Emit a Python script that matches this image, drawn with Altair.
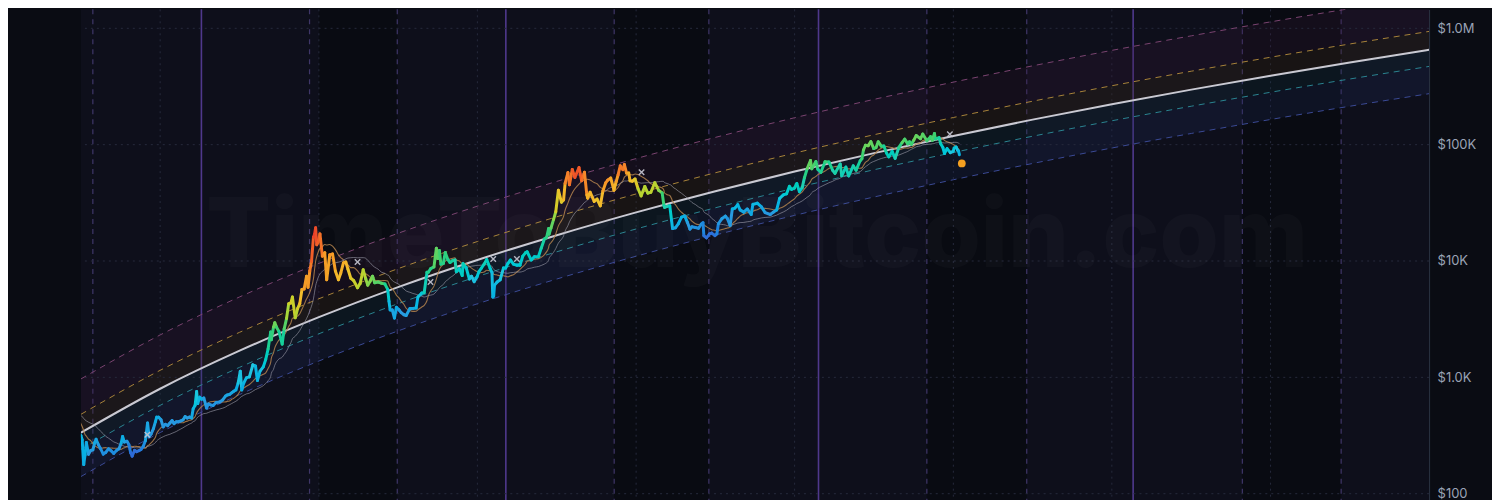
import altair as alt
import pandas as pd

# ---------------- data ----------------
YEARS = [f"{y}-01-01" for y in range(2015, 2033)]
CENTER = [334, 798, 1694, 3289, 5970, 10210, 16670, 26180, 39810, 58750,
          84530, 118850, 164060, 222840, 297170, 391740, 509330, 653130]
BAND_MULT = {"pink": 2.9, "orange": 1.44, "teal": 0.72, "blue": 0.42}

GRID_X = ["2016-01-01", "2018-01-01", "2020-01-01", "2022-01-01", "2024-01-01",
          "2026-01-01", "2028-01-01", "2030-01-01"]
GRID_Y = [100, 1000, 10000, 100000, 1000000]
HALVINGS = ["2016-07-09", "2020-05-11", "2024-04-20", "2028-04-08"]
CYCLE_LINES = ["2015-02-25", "2017-11-19", "2018-12-28", "2021-09-22", "2022-12-02",
               "2025-09-01", "2026-12-05", "2029-08-24", "2030-11-22"]
DARK_START = ["2018-01-01", "2021-09-22", "2025-09-01", "2029-08-24"]
DARK_END = ["2018-12-28", "2022-12-02", "2026-12-05", "2030-11-22"]

MARK_DATES = ["2015-11-03", "2018-06-28", "2019-05-30", "2020-03-14", "2020-07-01",
              "2022-01-26", "2025-12-16"]
MARK_PRICES = [321, 9800, 6600, 10400, 10400, 58000, 123000]
NOW_DATE = ["2026-02-09"]
NOW_PRICE = [69000]

P2014 = [("2014-06-01", 630, .5), ("2014-06-15", 590, .5), ("2014-07-01", 640, .5),
         ("2014-07-15", 620, .5), ("2014-08-01", 590, .45), ("2014-08-15", 500, .4),
         ("2014-09-01", 480, .4), ("2014-09-15", 470, .4), ("2014-10-01", 380, .35),
         ("2014-10-15", 390, .35), ("2014-11-01", 330, .35), ("2014-11-15", 400, .35),
         ("2014-12-01", 380, .35), ("2014-12-15", 350, .35)]
P2015 = [("2015-01-01", 315, .38), ("2015-01-07", 290, .36), ("2015-01-14", 178, .34),
         ("2015-01-20", 215, .34), ("2015-01-26", 275, .36), ("2015-02-05", 218, .3),
         ("2015-02-15", 235, .3), ("2015-02-25", 238, .3), ("2015-03-05", 272, .32),
         ("2015-03-12", 294, .34), ("2015-03-22", 265, .3), ("2015-04-01", 245, .28),
         ("2015-04-14", 219, .25), ("2015-04-25", 226, .25), ("2015-05-08", 243, .28),
         ("2015-05-20", 234, .26), ("2015-06-01", 222, .24), ("2015-06-15", 236, .26),
         ("2015-06-25", 243, .28), ("2015-07-05", 270, .32), ("2015-07-12", 310, .36),
         ("2015-07-20", 278, .32), ("2015-08-01", 282, .3), ("2015-08-10", 265, .25),
         ("2015-08-18", 225, .15), ("2015-08-25", 210, .12), ("2015-09-05", 236, .15),
         ("2015-09-15", 230, .14), ("2015-09-25", 234, .15), ("2015-10-05", 240, .18),
         ("2015-10-15", 255, .22), ("2015-10-25", 285, .28), ("2015-11-04", 405, .36),
         ("2015-11-11", 310, .28), ("2015-11-20", 325, .28), ("2015-12-01", 362, .3),
         ("2015-12-10", 415, .33), ("2015-12-16", 455, .35), ("2015-12-25", 455, .34)]
P2016 = [("2016-01-05", 432, .32), ("2016-01-15", 375, .28), ("2016-01-25", 395, .28),
         ("2016-02-05", 385, .28), ("2016-02-15", 405, .3), ("2016-02-25", 425, .3),
         ("2016-03-05", 400, .28), ("2016-03-15", 415, .28), ("2016-03-25", 416, .28),
         ("2016-04-05", 422, .28), ("2016-04-15", 430, .3), ("2016-04-25", 460, .32),
         ("2016-05-05", 447, .3), ("2016-05-15", 456, .3), ("2016-05-25", 448, .3),
         ("2016-06-01", 536, .36), ("2016-06-10", 575, .38), ("2016-06-17", 755, .45),
         ("2016-06-22", 595, .36), ("2016-07-01", 675, .38), ("2016-07-10", 650, .35),
         ("2016-07-20", 665, .35), ("2016-08-02", 545, .26), ("2016-08-10", 590, .28),
         ("2016-08-20", 580, .27), ("2016-09-01", 573, .27), ("2016-09-15", 608, .28),
         ("2016-10-01", 615, .28), ("2016-10-15", 640, .3), ("2016-10-28", 690, .32),
         ("2016-11-05", 705, .32), ("2016-11-15", 712, .32), ("2016-11-25", 735, .32),
         ("2016-12-05", 760, .33), ("2016-12-15", 780, .33), ("2016-12-25", 890, .36)]
P2017 = [("2017-01-04", 1130, .45), ("2017-01-11", 780, .33), ("2017-01-20", 895, .36),
         ("2017-02-01", 990, .38), ("2017-02-15", 1010, .38), ("2017-03-03", 1280, .42),
         ("2017-03-15", 1250, .38), ("2017-03-24", 940, .34), ("2017-04-05", 1130, .38),
         ("2017-04-20", 1230, .4), ("2017-05-01", 1420, .45), ("2017-05-12", 1750, .5),
         ("2017-05-24", 2450, .6), ("2017-05-27", 2100, .55), ("2017-06-06", 2700, .62),
         ("2017-06-12", 2950, .66), ("2017-06-20", 2700, .62), ("2017-07-01", 2480, .58),
         ("2017-07-16", 1930, .5), ("2017-07-25", 2600, .58), ("2017-08-05", 3200, .66),
         ("2017-08-15", 4300, .74), ("2017-08-25", 4350, .75), ("2017-09-01", 4900, .78),
         ("2017-09-14", 3250, .7), ("2017-09-25", 3900, .74), ("2017-10-05", 4300, .78),
         ("2017-10-15", 5700, .84), ("2017-10-25", 5750, .85), ("2017-11-05", 7400, .88),
         ("2017-11-12", 5950, .84), ("2017-11-20", 8200, .9), ("2017-11-28", 9900, .93),
         ("2017-12-07", 16000, .98), ("2017-12-12", 17000, .99), ("2017-12-17", 19300, 1.0),
         ("2017-12-22", 13800, .95), ("2017-12-28", 14500, .95)]
P2018 = [("2018-01-06", 17100, .96), ("2018-01-17", 11000, .9), ("2018-01-28", 11800, .9),
         ("2018-02-06", 6900, .82), ("2018-02-20", 11300, .88), ("2018-03-05", 11500, .88),
         ("2018-03-18", 8200, .84), ("2018-04-01", 6900, .8), ("2018-04-12", 7900, .82),
         ("2018-04-24", 9650, .84), ("2018-05-05", 9800, .84), ("2018-05-15", 8500, .8),
         ("2018-05-28", 7100, .78), ("2018-06-10", 6800, .76), ("2018-06-28", 5900, .72),
         ("2018-07-10", 6400, .72), ("2018-07-24", 8400, .74), ("2018-08-05", 7000, .7),
         ("2018-08-14", 6200, .66), ("2018-08-25", 6700, .66), ("2018-09-05", 7400, .66),
         ("2018-09-15", 6500, .62), ("2018-10-01", 6600, .62), ("2018-10-15", 6450, .62),
         ("2018-11-01", 6350, .6), ("2018-11-14", 5700, .5), ("2018-11-20", 4500, .4),
         ("2018-11-25", 3800, .35), ("2018-12-05", 3800, .33), ("2018-12-15", 3230, .3),
         ("2018-12-24", 4000, .36)]
P2019 = [("2019-01-05", 3800, .32), ("2019-01-15", 3600, .3), ("2019-01-28", 3450, .3),
         ("2019-02-07", 3400, .3), ("2019-02-24", 3900, .33), ("2019-03-10", 3900, .33),
         ("2019-03-25", 3950, .33), ("2019-04-02", 4900, .4), ("2019-04-20", 5300, .42),
         ("2019-05-01", 5350, .43), ("2019-05-14", 8000, .55), ("2019-05-20", 8000, .55),
         ("2019-05-31", 8600, .57), ("2019-06-15", 8900, .58), ("2019-06-26", 12900, .66),
         ("2019-07-02", 10500, .6), ("2019-07-10", 12300, .64), ("2019-07-17", 9400, .56),
         ("2019-07-28", 9500, .55), ("2019-08-06", 11800, .6), ("2019-08-18", 10300, .56),
         ("2019-08-28", 9700, .54), ("2019-09-10", 10100, .54), ("2019-09-20", 10200, .54),
         ("2019-09-26", 8100, .46), ("2019-10-10", 8600, .47), ("2019-10-23", 7500, .43),
         ("2019-10-27", 9500, .5), ("2019-11-10", 8800, .47), ("2019-11-25", 7000, .4),
         ("2019-12-05", 7400, .42), ("2019-12-17", 6650, .38), ("2019-12-30", 7300, .4)]
P2020 = [("2020-01-08", 8100, .44), ("2020-01-20", 8700, .46), ("2020-02-01", 9400, .48),
         ("2020-02-13", 10300, .5), ("2020-02-29", 8600, .44), ("2020-03-08", 8000, .42),
         ("2020-03-12", 4900, .34), ("2020-03-16", 5000, .34), ("2020-03-20", 6200, .37),
         ("2020-04-01", 6600, .38), ("2020-04-15", 6900, .38), ("2020-04-30", 8700, .43),
         ("2020-05-10", 8700, .42), ("2020-05-20", 9500, .44), ("2020-06-01", 10200, .45),
         ("2020-06-15", 9400, .43), ("2020-07-01", 9200, .42), ("2020-07-15", 9200, .42),
         ("2020-07-28", 11000, .47), ("2020-08-10", 11800, .48), ("2020-08-17", 12000, .49),
         ("2020-09-05", 10200, .44), ("2020-09-20", 10900, .45), ("2020-10-08", 10900, .45),
         ("2020-10-21", 12900, .5), ("2020-11-05", 15500, .55), ("2020-11-15", 16000, .56),
         ("2020-11-24", 19000, .6), ("2020-11-26", 17000, .58), ("2020-12-05", 19200, .6),
         ("2020-12-17", 22800, .66), ("2020-12-27", 26500, .7)]
P2021 = [("2021-01-08", 40600, .82), ("2021-01-22", 32000, .76), ("2021-02-01", 33500, .78),
         ("2021-02-08", 46500, .86), ("2021-02-21", 57500, .94), ("2021-02-28", 45200, .88),
         ("2021-03-13", 61200, .98), ("2021-03-25", 52300, .94), ("2021-04-13", 63500, 1.0),
         ("2021-04-25", 49000, .92), ("2021-05-08", 58000, .95), ("2021-05-19", 37000, .84),
         ("2021-05-23", 34700, .82), ("2021-06-03", 39000, .84), ("2021-06-22", 32500, .8),
         ("2021-07-05", 34000, .8), ("2021-07-20", 29800, .78), ("2021-08-01", 40000, .84),
         ("2021-08-14", 47000, .88), ("2021-08-23", 49500, .88), ("2021-09-06", 51700, .88),
         ("2021-09-21", 40600, .8), ("2021-10-01", 48000, .84), ("2021-10-10", 55000, .88),
         ("2021-10-20", 65900, .94), ("2021-11-01", 61000, .9), ("2021-11-08", 67500, .94),
         ("2021-11-18", 56900, .86), ("2021-11-28", 57000, .86), ("2021-12-04", 49000, .8),
         ("2021-12-15", 48500, .79), ("2021-12-27", 50700, .8)]
P2022 = [("2022-01-10", 41800, .74), ("2022-01-24", 36300, .7), ("2022-02-10", 43700, .74),
         ("2022-02-24", 38300, .7), ("2022-03-10", 39000, .7), ("2022-03-28", 47100, .76),
         ("2022-04-15", 40500, .68), ("2022-05-01", 38500, .64), ("2022-05-09", 30000, .55),
         ("2022-05-12", 28900, .5), ("2022-05-25", 29500, .5), ("2022-06-05", 29900, .5),
         ("2022-06-13", 22500, .4), ("2022-06-18", 19000, .34), ("2022-07-01", 19300, .32),
         ("2022-07-15", 21000, .33), ("2022-07-29", 23800, .36), ("2022-08-13", 24400, .36),
         ("2022-08-25", 21500, .32), ("2022-09-06", 18800, .28), ("2022-09-15", 19700, .28),
         ("2022-10-01", 19400, .27), ("2022-10-15", 19100, .26), ("2022-10-29", 20800, .27),
         ("2022-11-05", 21300, .27), ("2022-11-09", 16500, .18), ("2022-11-21", 15800, .14),
         ("2022-12-05", 17100, .16), ("2022-12-15", 17350, .16), ("2022-12-30", 16550, .15)]
P2023 = [("2023-01-08", 17100, .18), ("2023-01-15", 20900, .26), ("2023-01-31", 23100, .3),
         ("2023-02-16", 24300, .32), ("2023-02-25", 23200, .3), ("2023-03-10", 20200, .24),
         ("2023-03-20", 28000, .35), ("2023-04-01", 28500, .36), ("2023-04-14", 30500, .38),
         ("2023-04-25", 27500, .34), ("2023-05-12", 26300, .32), ("2023-05-28", 28000, .33),
         ("2023-06-15", 25100, .3), ("2023-06-23", 30700, .37), ("2023-07-13", 31400, .38),
         ("2023-08-01", 29200, .35), ("2023-08-18", 26100, .3), ("2023-09-11", 25100, .28),
         ("2023-09-25", 26300, .3), ("2023-10-10", 27400, .32), ("2023-10-24", 34500, .4),
         ("2023-11-10", 37000, .42), ("2023-11-25", 37800, .42), ("2023-12-08", 43800, .48),
         ("2023-12-18", 41300, .46), ("2023-12-31", 42300, .46)]
P2024 = [("2024-01-11", 46300, .5), ("2024-01-23", 39500, .44), ("2024-02-05", 42700, .46),
         ("2024-02-15", 51800, .54), ("2024-02-28", 62400, .6), ("2024-03-14", 73100, .66),
         ("2024-03-20", 62000, .6), ("2024-04-08", 71600, .62), ("2024-04-17", 61300, .56),
         ("2024-05-01", 57900, .52), ("2024-05-20", 71400, .6), ("2024-06-07", 71000, .58),
         ("2024-06-24", 60300, .52), ("2024-07-05", 56700, .48), ("2024-07-29", 68200, .55),
         ("2024-08-05", 54000, .46), ("2024-08-24", 64100, .52), ("2024-09-06", 53900, .46),
         ("2024-09-27", 65800, .52), ("2024-10-10", 60300, .5), ("2024-10-29", 72700, .56),
         ("2024-11-06", 75600, .58), ("2024-11-13", 90000, .62), ("2024-11-22", 98900, .64),
         ("2024-12-05", 98000, .63), ("2024-12-17", 106100, .66), ("2024-12-30", 92600, .6)]
P2025 = [("2025-01-10", 94500, .6), ("2025-01-20", 106000, .64), ("2025-02-03", 97000, .6),
         ("2025-02-15", 97500, .58), ("2025-02-27", 84700, .5), ("2025-03-10", 78600, .46),
         ("2025-03-25", 87500, .5), ("2025-04-08", 76300, .45), ("2025-04-25", 94600, .55),
         ("2025-05-10", 104000, .6), ("2025-05-22", 111500, .64), ("2025-06-05", 101500, .58),
         ("2025-06-13", 106000, .6), ("2025-06-22", 100900, .58), ("2025-07-03", 109500, .62),
         ("2025-07-14", 119800, .66), ("2025-08-03", 112500, .6), ("2025-08-13", 123400, .66),
         ("2025-09-01", 108000, .58), ("2025-09-18", 117100, .62), ("2025-09-26", 109000, .58),
         ("2025-10-06", 124700, .64), ("2025-10-10", 112000, .56), ("2025-10-27", 115000, .56),
         ("2025-11-04", 101500, .48), ("2025-11-14", 94500, .44), ("2025-11-21", 84000, .4),
         ("2025-12-03", 92500, .44), ("2025-12-18", 85500, .4), ("2025-12-31", 87500, .4)]
P2026 = [("2026-01-05", 93500, .42), ("2026-01-14", 95500, .42), ("2026-01-20", 90000, .4),
         ("2026-01-25", 88000, .38), ("2026-01-29", 82000, .34)]

# ---------------- tables ----------------
rows = P2014 + P2015 + P2016 + P2017 + P2018 + P2019 + P2020 + P2021 + P2022 + P2023 + P2024 + P2025 + P2026
price = pd.DataFrame(rows, columns=["date", "price", "heat"])
seg = pd.DataFrame({
    "date": price["date"][:-1].values,
    "date2": price["date"][1:].values,
    "price": price["price"][:-1].values,
    "price2": price["price"][1:].values,
    "heat": (price["heat"][:-1].values + price["heat"][1:].values) / 2,
})
bands = pd.DataFrame({"date": YEARS, "center": CENTER})
for k, m in BAND_MULT.items():
    bands[k] = bands["center"] * m

W, H = 1350, 492
XS = alt.Scale(type="utc", domain=[alt.DateTime(year=2015, month=1, date=1, utc=True),
                                   alt.DateTime(year=2032, month=1, date=1, utc=True)])
YS = alt.Scale(type="log", domain=[87.1, 1456000], nice=False)
YAX = alt.Axis(orient="right", values=GRID_Y, grid=False, ticks=False, tickSize=0,
               labelPadding=8, labelColor="#9aa3b5", labelFont="Inter", labelFontSize=13,
               domainColor="#2b3243", domainWidth=1, title=None,
               labelExpr="replace(format(datum.value, '$.2s'), 'k', 'K')")


def X(f="date"):
    return alt.X(f"{f}:T", scale=XS, axis=None)


def Y(f):
    return alt.Y(f"{f}:Q", scale=YS, axis=YAX)


dark = alt.Chart(pd.DataFrame({"s": DARK_START, "e": DARK_END})).mark_rect(color="#090b12").encode(
    x=alt.X("s:T", scale=XS, axis=None), x2="e:T")

vgrid = alt.Chart(pd.DataFrame({"date": GRID_X})).mark_rule(
    color="#262a3c", strokeDash=[2, 4], strokeWidth=1).encode(x=X())

hgrid = alt.Chart(pd.DataFrame({"v": GRID_Y})).mark_rule(
    color="#262a3c", strokeDash=[2, 4], strokeWidth=1).encode(y=Y("v"))

cyc = alt.Chart(pd.DataFrame({"date": CYCLE_LINES})).mark_rule(
    color="#3f3668", strokeDash=[5, 5], strokeWidth=1.2).encode(x=X())
halv = alt.Chart(pd.DataFrame({"date": HALVINGS})).mark_rule(
    color="#4f388c", strokeWidth=1.6).encode(x=X())

fills = []
for top, bot, col, op in [("pink", "orange", "#3a1a3a", 0.24), ("orange", "center", "#3a2a1a", 0.3),
                          ("center", "teal", "#1a3a4a", 0.24), ("teal", "blue", "#1e2a5a", 0.26)]:
    fills.append(alt.Chart(bands).mark_area(color=col, opacity=op, interpolate="monotone", clip=True)
                 .encode(x=X(), y=Y(top), y2=f"{bot}:Q"))

blines = []
for f, col, dash, w in [("pink", "#7a4470", [6, 5], 1), ("orange", "#a8843a", [6, 5], 1),
                        ("center", "#c9c9d2", None, 2), ("teal", "#2b8592", [6, 5], 1),
                        ("blue", "#3b4a96", [6, 5], 1)]:
    kw = dict(color=col, strokeWidth=w, interpolate="monotone", clip=True)
    if dash:
        kw["strokeDash"] = dash
    blines.append(alt.Chart(bands).mark_line(**kw).encode(x=X(), y=Y(f)))

water = alt.Chart(pd.DataFrame({"t": ["TimeToBuyBitcoin.com"]})).mark_text(
    font="Inter", fontWeight=800, fontSize=96, color="#ffffff", opacity=0.018,
    align="center", baseline="alphabetic").encode(
    text="t:N", x=alt.value(677), y=alt.value(258))

ma_base = alt.Chart(price).transform_window(
    ma_s="mean(price)", frame=[-9, 0], sort=[alt.SortField("date")]).transform_window(
    ma_l="mean(price)", frame=[-22, 0], sort=[alt.SortField("date")])
ma1 = ma_base.mark_line(color="#b3824e", strokeWidth=1.1, opacity=0.85, clip=True,
                        interpolate="monotone").encode(x=X(), y=Y("ma_s"))
ma2 = ma_base.mark_line(color="#a2a2b0", strokeWidth=1, opacity=0.6, clip=True,
                        interpolate="monotone").encode(x=X(), y=Y("ma_l"))

HEAT = alt.Scale(domain=[0, .15, .3, .4, .5, .6, .7, .8, .9, 1],
                 range=["#2848c0", "#2f6fd8", "#2a9be0", "#22c4e0", "#20cfb0", "#3cd070",
                        "#a8d83a", "#f2c12e", "#f5862a", "#e8342c"])
line = alt.Chart(seg).mark_rule(strokeWidth=3, strokeCap="round", clip=True).encode(
    x=X(), x2="date2:T", y=Y("price"), y2="price2:Q",
    color=alt.Color("heat:Q", scale=HEAT, legend=None))

marks = alt.Chart(pd.DataFrame({"date": MARK_DATES, "price": MARK_PRICES})).mark_point(
    shape="M-1,-1L1,1M-1,1L1,-1", filled=False, color="#c8c8d4", strokeWidth=1.4,
    size=30, opacity=0.9).encode(x=X(), y=Y("price"))

now = alt.Chart(pd.DataFrame({"date": NOW_DATE, "price": NOW_PRICE})).mark_circle(
    color="#f5a020", size=60, opacity=1).encode(x=X(), y=Y("price"))

chart = alt.layer(dark, vgrid, cyc, halv, *fills, hgrid, *blines, water, ma1, ma2, line, marks, now).properties(
    width=W, height=H, padding={"left": 72, "top": 0, "right": 16, "bottom": 0},
    background="#0a0c13").configure_view(fill="#0e0f1b", strokeWidth=0)

chart.save("out.html", embed_options={"renderer": "svg", "actions": False})
